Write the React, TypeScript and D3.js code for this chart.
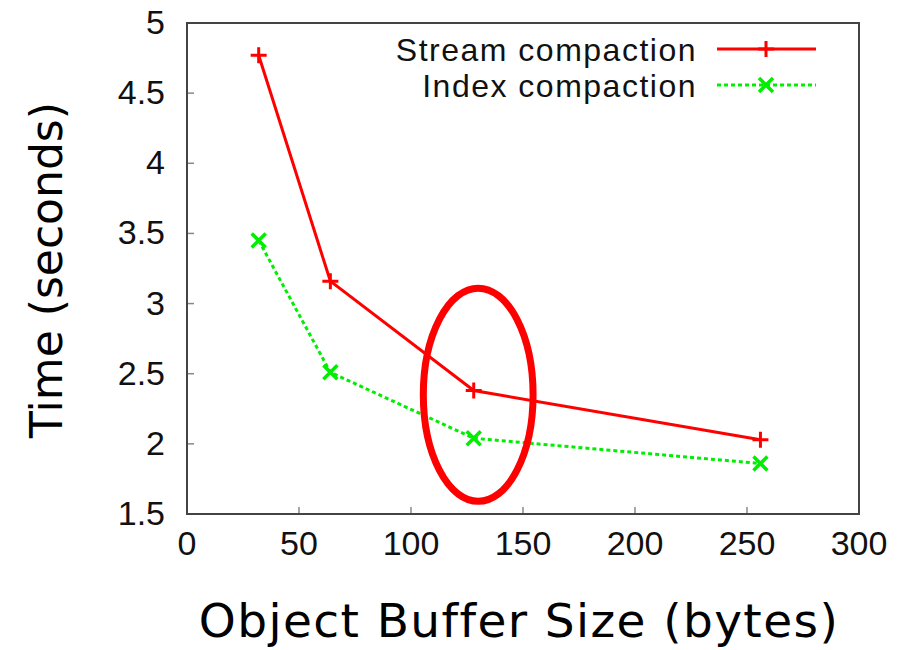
import React from 'react';
import * as d3 from 'd3';

const bufferSizes = [32, 64, 128, 256];
const streamTimes = [4.77, 3.16, 2.38, 2.03];
const indexTimes = [3.45, 2.51, 2.04, 1.86];
const xTicks = [0, 50, 100, 150, 200, 250, 300];
const yTicks = [1.5, 2, 2.5, 3, 3.5, 4, 4.5, 5];
const seriesNames = ['Stream compaction', 'Index compaction'];
// highlighted point (ellipse annotation) in data units
const highlight = { x: 130, y: 2.35, rx: 24.5, ry: 0.76 };

const W = 905;
const H = 650;
const margin = { left: 187, right: 46, top: 23, bottom: 136 };

const App = () => {
  const x = d3.scaleLinear().domain([0, 300]).range([margin.left, W - margin.right]);
  const y = d3.scaleLinear().domain([1.5, 5]).range([H - margin.bottom, margin.top]);

  const line = d3.line<number>()
    .x((d, i) => x(bufferSizes[i]))
    .y(d => y(d));

  const plus = (cx: number, cy: number, s = 8) =>
    `M${cx - s},${cy}H${cx + s}M${cx},${cy - s}V${cy + s}`;
  const cross = (cx: number, cy: number, s = 7) =>
    `M${cx - s},${cy - s}L${cx + s},${cy + s}M${cx - s},${cy + s}L${cx + s},${cy - s}`;

  const font = 'Liberation Sans, Arial, sans-serif';

  return (
    <svg width={W} height={H} style={{ position: 'absolute', left: 0, top: 0, background: '#fff' }}>
      {/* axes ticks */}
      {yTicks.map(t => (
        <g key={'y' + t}>
          <line x1={x(0)} x2={x(0) + 7} y1={y(t)} y2={y(t)} stroke="#888" strokeWidth={1.5} />
          <text x={165} y={y(t) + 11} textAnchor="end" fontFamily={font} fontSize={34} fill="#111">
            {t}
          </text>
        </g>
      ))}
      {xTicks.map(t => (
        <g key={'x' + t}>
          <line x1={x(t)} x2={x(t)} y1={y(1.5)} y2={y(1.5) - 7} stroke="#888" strokeWidth={1.5} />
          <text x={x(t)} y={y(1.5) + 41} textAnchor="middle" fontFamily={font} fontSize={34} fill="#111">
            {t}
          </text>
        </g>
      ))}
      <rect x={x(0)} y={y(5)} width={x(300) - x(0)} height={y(1.5) - y(5)} fill="none" stroke="#444" strokeWidth={2} />

      {/* series */}
      <path d={line(streamTimes) || ''} fill="none" stroke="#ff0000" strokeWidth={3} />
      {streamTimes.map((v, i) => (
        <path key={'s' + i} d={plus(x(bufferSizes[i]), y(v))} stroke="#ff0000" strokeWidth={3} />
      ))}
      <path d={line(indexTimes) || ''} fill="none" stroke="#00ee00" strokeWidth={3} strokeDasharray="4,3" />
      {indexTimes.map((v, i) => (
        <path key={'i' + i} d={cross(x(bufferSizes[i]), y(v))} stroke="#00ee00" strokeWidth={3.5} />
      ))}

      {/* legend */}
      <text x={697} y={61} textAnchor="end" fontFamily={font} fontSize={32} letterSpacing={1.5} fill="#111">
        {seriesNames[0]}
      </text>
      <line x1={717} x2={816} y1={49} y2={49} stroke="#ff0000" strokeWidth={3} />
      <path d={plus(766, 49)} stroke="#ff0000" strokeWidth={3} />
      <text x={697} y={97} textAnchor="end" fontFamily={font} fontSize={32} letterSpacing={1.5} fill="#111">
        {seriesNames[1]}
      </text>
      <line x1={717} x2={816} y1={85} y2={85} stroke="#00ee00" strokeWidth={3} strokeDasharray="4,3" />
      <path d={cross(766, 85)} stroke="#00ee00" strokeWidth={3.5} />

      {/* annotation ellipse */}
      <ellipse
        cx={x(highlight.x)}
        cy={y(highlight.y)}
        rx={x(highlight.rx) - x(0)}
        ry={y(1.5) - y(1.5 + highlight.ry)}
        fill="none"
        stroke="#ff0000"
        strokeWidth={7}
      />

      {/* axis titles */}
      <text
        transform="translate(62, 270) rotate(-90)"
        textAnchor="middle"
        fontFamily="DejaVu Sans, Verdana, sans-serif"
        fontSize={44}
        fill="#000"
      >
        Time (seconds)
      </text>
      <text
        x={519}
        y={637}
        textAnchor="middle"
        fontFamily="DejaVu Sans, Verdana, sans-serif"
        fontSize={47}
        letterSpacing={1.4}
        fill="#000"
      >
        Object Buffer Size (bytes)
      </text>
    </svg>
  );
};

export default App;
